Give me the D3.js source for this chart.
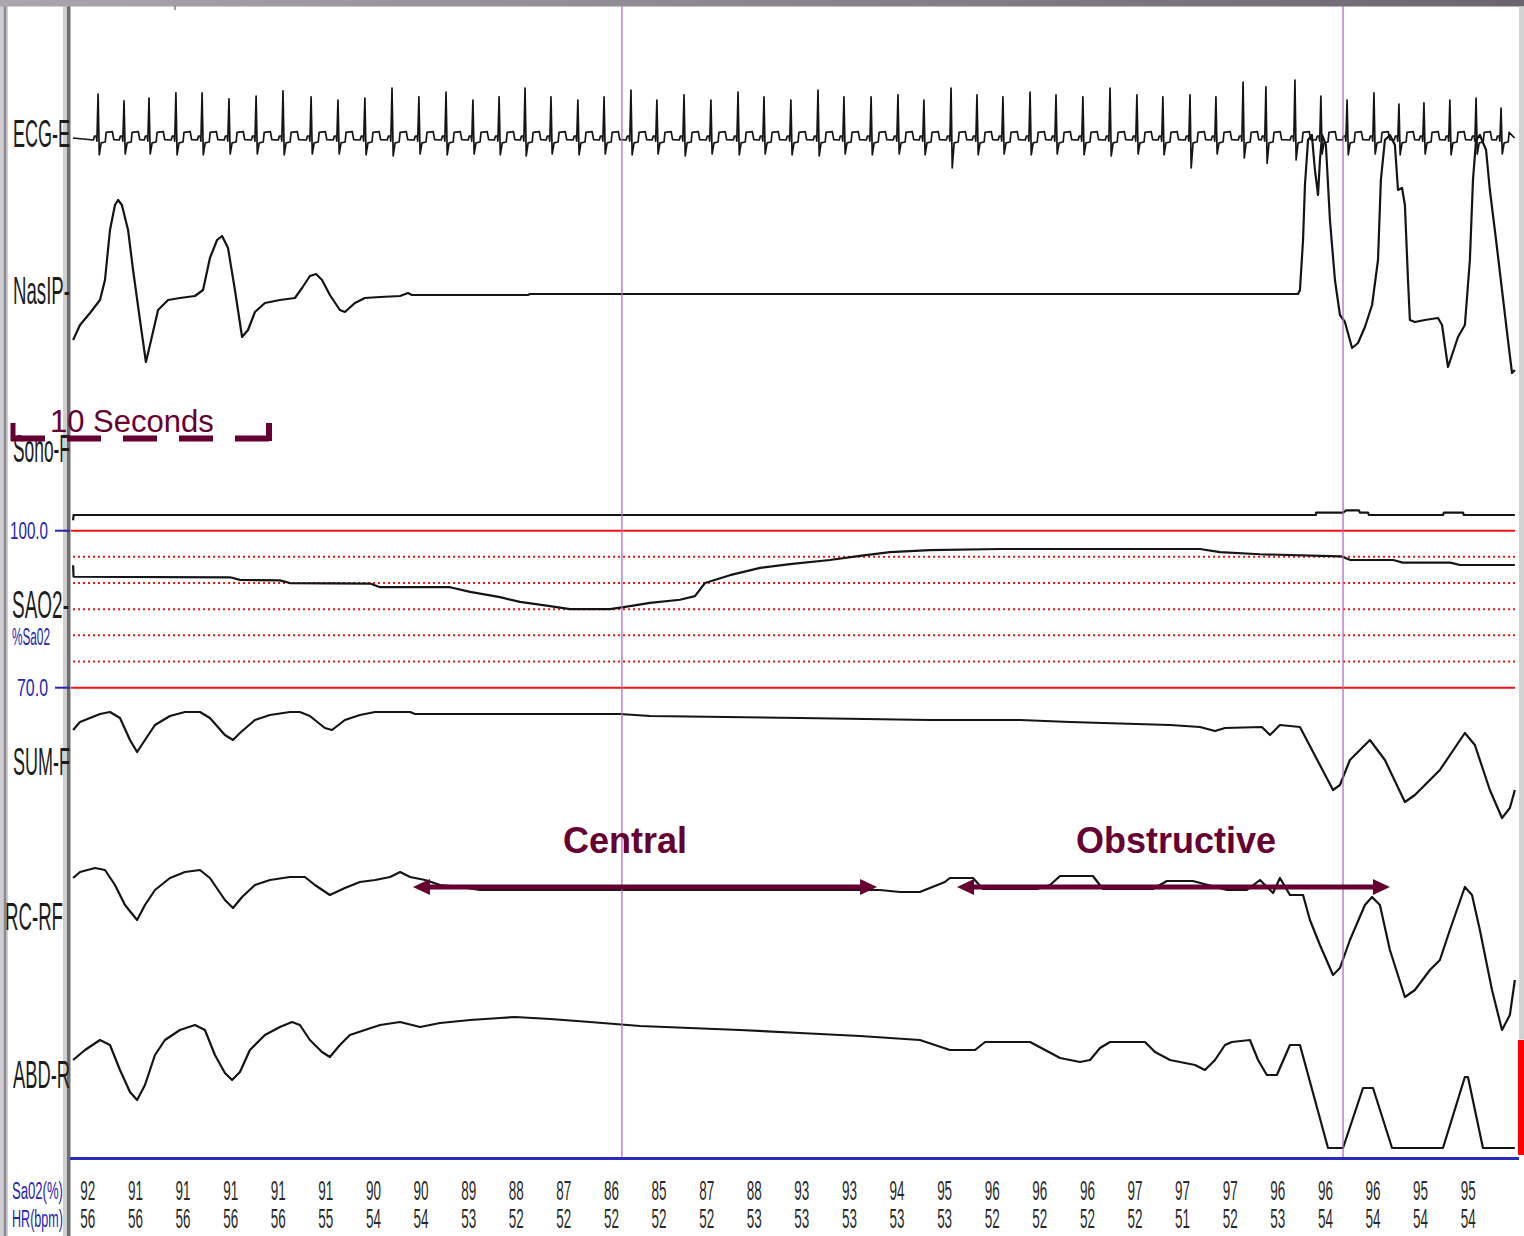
<!DOCTYPE html>
<html>
<head>
<meta charset="utf-8">
<script src="https://cdn.jsdelivr.net/npm/d3@7"></script>
<style>
  html, body { margin: 0; padding: 0; background: #fff; }
  svg { display: block; }
</style>
</head>
<body>
<svg id="chart" width="1524" height="1236"></svg>
<script>
// ---------------------------------------------------------------
// Polysomnography epoch (60 s): central then obstructive apnea
// times in seconds from the start of the screen
// ---------------------------------------------------------------

// Per-2-second summary row
const epochStarts = [0,2,4,6,8,10,12,14,16,18,20,22,24,26,28,30,32,34,36,38,40,42,44,46,48,50,52,54,56,58];
const sao2Row = [92,91,91,91,91,91,90,90,89,88,87,86,85,87,88,93,93,94,95,96,96,96,97,97,97,96,96,96,95,95];
const hrRow   = [56,56,56,56,56,55,54,54,53,52,52,52,52,52,53,53,53,53,53,52,52,52,52,51,52,53,54,54,54,54];

// ECG: R-wave times (s), R amplitude (mV), S depth (mV)
const ecgBeatT = [1.18,2.27,3.32,4.45,5.55,6.68,7.82,8.95,10.13,11.26,12.39,13.53,14.66,15.80,16.93,18.03,19.12,20.21,21.34,22.44,23.57,24.66,25.80,26.93,28.07,29.16,30.29,31.43,32.52,33.66,34.79,35.88,37.02,38.11,39.20,40.34,41.43,42.56,43.70,44.83,45.92,47.06,48.15,49.29,50.25,51.47,52.56,53.66,54.79,55.84,56.89,57.98,59.08,60.13];
const ecgBeatR = [1.10,0.93,1.00,1.13,1.13,0.98,1.05,1.18,1.03,0.95,1.00,1.25,1.03,1.15,0.95,1.03,1.25,1.03,0.95,1.03,1.20,0.95,1.08,0.95,1.15,1.03,0.95,1.20,1.03,1.03,1.08,0.95,1.25,1.08,1.03,1.15,1.08,1.03,1.25,1.08,1.03,1.08,1.03,1.40,1.28,1.45,1.05,0.95,1.13,0.85,0.88,0.95,1.00,0.75];
const ecgBeatS = [0.42,0.40,0.40,0.42,0.42,0.40,0.40,0.42,0.40,0.40,0.42,0.45,0.40,0.42,0.40,0.42,0.45,0.40,0.42,0.40,0.42,0.40,0.45,0.40,0.42,0.40,0.42,0.45,0.40,0.42,0.40,0.42,0.75,0.42,0.40,0.42,0.40,0.42,0.45,0.40,0.42,0.75,0.40,0.50,0.63,0.55,0.40,0.42,0.40,0.42,0.40,0.42,0.40,0.40];
// P-Q segment and S-T-wave segment around each R wave: [offset s, mV]
const ecgPQ = [[-0.20,-0.05],[-0.15,0.05],[-0.08,0.05],[-0.05,-0.08]];
const ecgST = [[0.13,-0.12],[0.30,-0.10],[0.34,0.14],[0.60,0.16],[0.66,-0.04]];

// Nasal pressure (arbitrary units, 0 = no flow)
const nasT = [0.13,0.42,0.84,1.26,1.47,1.68,1.89,2.02,2.18,2.44,2.65,2.94,3.19,3.36,3.70,4.12,4.62,5.25,5.59,5.88,6.18,6.39,6.64,6.93,7.23,7.48,7.77,8.19,8.82,9.45,9.75,10.08,10.34,10.59,10.92,11.34,11.55,11.97,12.39,13.03,13.87,14.20,14.37,19.24,19.33,51.60,51.68,51.81,51.89,52.02,52.18,52.31,52.44,52.52,52.61,52.77,52.94,53.15,53.36,53.57,53.87,54.12,54.41,54.71,54.96,55.08,55.25,55.46,55.67,55.80,55.97,56.09,56.22,56.30,56.51,56.93,57.48,57.65,57.90,58.07,58.32,58.61,58.82,58.95,59.08,59.24,59.50,59.66,59.92,60.17,60.42,60.59,60.71];
const nasV = [-46,-31,-19,-6,14,64,89,94,89,64,24,-26,-68,-51,-16,-6,-4,-2,4,36,54,58,46,4,-43,-36,-18,-9,-6,-4,6,18,20,14,-1,-16,-18,-9,-4,-3,-2,1,-1,-1,0,0,4,54,109,154,159,124,99,134,159,149,74,14,-21,-28,-54,-49,-33,-11,34,114,154,159,149,104,106,89,14,-26,-28,-26,-24,-31,-73,-61,-43,-31,34,114,154,159,144,104,54,4,-46,-79,-76];

// Oxygen saturation (%)
const sao2T = [0.13,0.15,6.72,7.14,8.82,9.24,12.61,13.03,15.97,16.81,18.07,18.91,20.17,21.01,22.69,23.53,24.37,25.63,26.26,26.68,27.73,29.00,30.25,31.93,33.19,34.45,36.13,39.08,47.48,48.32,50.00,53.40,53.80,55.60,56.00,58.00,58.40,60.71];
const sao2V = [93.4,91.2,91.1,90.6,90.5,90.0,89.9,89.2,89.2,88.3,87.3,86.4,85.6,85.0,85.0,85.6,86.2,86.8,87.5,90.0,91.5,92.9,93.6,94.4,95.2,95.9,96.3,96.5,96.5,95.9,95.5,95.1,94.4,94.4,93.9,93.9,93.45,93.45];
// Pulse-amplitude marker trace drawn on the same scale
const pulseT = [0.13,0.15,52.35,52.36,53.49,53.62,54.16,54.20,54.54,54.58,57.69,57.73,58.53,58.57,60.71];
const pulseV = [102.0,103.0,103.0,103.45,103.45,103.9,103.9,103.45,103.45,103.0,103.0,103.45,103.45,103.0,103.0];

// Summed effort
const sumT = [0.13,0.42,0.84,1.26,1.68,2.10,2.52,2.82,3.15,3.57,4.20,4.83,5.46,5.88,6.51,6.85,7.14,7.77,8.40,9.24,9.66,10.08,10.71,11.01,11.55,12.18,12.82,14.29,14.50,23.11,24.37,30.67,36.13,39.92,42.02,46.22,47.48,48.11,48.53,50.08,50.42,50.84,51.68,53.07,53.36,53.78,54.62,55.25,56.09,56.51,57.56,58.61,59.03,59.66,60.17,60.50,60.71];
const sumV = [-16,-8,-4,0,2,-4,-26,-38,-26,-11,-2,2,2,-4,-21,-26,-19,-6,-1,2,2,-2,-14,-16,-6,-1,2,2,0,0,-2,-4,-6,-6,-8,-11,-13,-17,-14,-13,-21,-11,-13,-76,-71,-46,-26,-46,-88,-81,-56,-19,-31,-76,-104,-94,-76];

// Rib-cage effort
const rcT = [0.13,0.42,1.05,1.47,1.89,2.31,2.82,3.15,3.57,4.20,4.83,5.46,5.88,6.51,6.85,7.23,7.77,8.40,9.24,9.87,10.29,10.92,11.55,12.18,12.82,13.45,13.87,14.29,14.92,15.55,16.39,17.23,33.19,34.03,34.87,35.71,36.13,36.76,36.97,37.94,38.36,40.63,41.18,41.60,42.98,43.40,45.50,46.09,47.18,48.61,49.45,50.00,50.55,50.84,51.26,51.81,52.10,52.52,53.07,53.36,53.78,54.41,54.71,55.04,55.46,56.09,56.51,57.14,57.56,57.98,58.61,58.91,59.24,59.75,60.17,60.50,60.71];
const rcV = [9,15,19,17,2,-18,-33,-18,-3,9,15,17,9,-13,-21,-10,2,7,10,10,2,-8,-1,5,7,10,15,10,7,2,0,-3,-3,-3,-5,-5,-1,5,9,9,-2,-2,2,11,11,-2,-2,6,6,-3,-3,7,-6,9,-8,-8,-33,-58,-88,-81,-53,-18,-10,-18,-63,-110,-103,-83,-73,-43,0,-8,-43,-103,-143,-128,-93];

// Abdominal effort
const abdT = [0.13,0.63,1.26,1.68,2.10,2.52,2.82,3.15,3.57,3.99,4.62,5.25,5.67,6.09,6.51,6.81,7.14,7.56,8.19,8.82,9.33,9.66,10.08,10.59,10.92,11.34,11.76,12.39,13.03,13.87,14.71,15.55,16.81,18.07,18.70,20.17,21.85,23.95,26.05,28.15,30.67,33.19,35.71,36.34,36.97,38.03,38.45,40.34,40.97,41.60,42.44,42.86,43.28,43.70,45.17,45.59,46.22,47.27,47.69,48.11,48.53,48.82,49.58,49.92,50.29,50.71,51.26,51.68,52.86,53.49,54.33,54.75,55.55,57.69,58.61,58.74,59.37,60.71];
const abdV = [-30,-20,-10,-15,-40,-62,-70,-55,-25,-10,0,5,0,-25,-43,-50,-42,-20,-5,3,8,5,-10,-22,-27,-15,-5,0,5,8,3,7,10,12,13,11,8,4,2,0,-3,-6,-10,-15,-20,-20,-12,-12,-20,-28,-32,-30,-18,-12,-12,-22,-30,-35,-40,-30,-15,-12,-10,-30,-45,-45,-15,-15,-118,-118,-58,-58,-118,-118,-47,-47,-118,-118];

// Event annotations (s)
const cursorTimes = [23.19, 53.49];
const events = [
  { label: "Central",     start: 14.41, end: 33.91, mid: 23.32 },
  { label: "Obstructive", start: 37.27, end: 55.46, mid: 46.47 }
];

// Channel labels
const channelNames = ["ECG-E", "NasIP-", "Sono-F", "SAO2-", "SUM-F", "RC-RF", "ABD-R"];
const sao2Ticks = [100, 70];
const sao2Dotted = [95, 90, 85, 80, 75];

// ---------------------------------------------------------------
const W = 1524, H = 1236;
const svg = d3.select("#chart");
const maroon = "#660033";
const blue = "#2323b4";
const FONT = "Liberation Sans, Arial, sans-serif";

const x = d3.scaleLinear().domain([0, 60.8]).range([70, 1517]);

const ecgY  = d3.scaleLinear().domain([-1, 1]).range([178, 98]);
const nasY  = d3.scaleLinear().domain([-100, 100]).range([394, 194]);
const sao2Y = d3.scaleLinear().domain([70, 100]).range([687.7, 530.7]);
const sumY  = d3.scaleLinear().domain([-100, 100]).range([814, 614]);
const rcY   = d3.scaleLinear().domain([-100, 100]).range([987, 787]);
const abdY  = d3.scaleLinear().domain([-100, 100]).range([1130, 930]);

const blueY = 1158.5;

// Condensed text: drawn at its natural width, then squeezed horizontally
function narrowText(parent, str, x0, y0, width, size, fill, anchor) {
  const g = parent.append("g");
  const t = g.append("text").attr("x", 0).attr("y", 0)
    .attr("font-family", FONT).attr("font-size", size).attr("fill", fill).text(str);
  const natural = t.node().getComputedTextLength();
  const k = width / natural;
  const left = anchor === "middle" ? x0 - width / 2 : x0;
  g.attr("transform", `translate(${left},${y0}) scale(${k},1)`);
  return g;
}

// background
svg.append("rect").attr("width", W).attr("height", H).attr("fill", "#fff");

// left window frame
svg.append("rect").attr("x", 0).attr("y", 0).attr("width", 8).attr("height", H).attr("fill", "#cfcdd2");
svg.append("line").attr("x1", 5).attr("x2", 5).attr("y1", 0).attr("y2", H)
  .attr("stroke", "#8c8890").attr("stroke-width", 2.5);

// plot frame (left axis)
svg.append("rect").attr("x", 63).attr("y", 0).attr("width", 4).attr("height", H).attr("fill", "#cfcfcf");
svg.append("rect").attr("x", 67).attr("y", 0).attr("width", 3.5).attr("height", H).attr("fill", "#6e6e6e");

// channel labels
const labelSpec = [
  { y: 147, x: 13, len: 57 },
  { y: 304, x: 13, len: 57 },
  { y: 462, x: 13, len: 57 },
  { y: 618, x: 12, len: 57 },
  { y: 775, x: 13, len: 57 },
  { y: 930, x: 5,  len: 58 },
  { y: 1088, x: 13, len: 57 }
];
const labG = svg.append("g");
channelNames.forEach((name, i) => {
  const s = labelSpec[i];
  narrowText(labG, name, s.x, s.y, s.len, 38, "#1c1c1c");
});

// SaO2 axis labels (blue)
narrowText(svg, "100.0", 10, sao2Y(100) + 8, 38, 24, blue);
narrowText(svg, "70.0", 17, sao2Y(70) + 8, 31, 24, blue);
narrowText(svg, "%Sa02", 12, 645, 38, 24, blue);
svg.append("g").selectAll("line").data(sao2Ticks).join("line")
  .attr("x1", 55).attr("x2", 70).attr("y1", d => sao2Y(d)).attr("y2", d => sao2Y(d))
  .attr("stroke", blue).attr("stroke-width", 2);

// SaO2 reference lines
svg.append("g").selectAll("line").data(sao2Ticks).join("line")
  .attr("x1", 71).attr("x2", 1515).attr("y1", d => sao2Y(d)).attr("y2", d => sao2Y(d))
  .attr("stroke", "#f01414").attr("stroke-width", 2);
svg.append("g").selectAll("line").data(sao2Dotted).join("line")
  .attr("x1", 73).attr("x2", 1515).attr("y1", d => sao2Y(d)).attr("y2", d => sao2Y(d))
  .attr("stroke", "#f01414").attr("stroke-width", 2).attr("stroke-dasharray", "2 3");

// build ECG samples from beats
const ecgPts = [[0.12, 0]];
ecgBeatT.forEach((t0, i) => {
  ecgPQ.forEach(([dt, v]) => ecgPts.push([t0 + dt, v]));
  ecgPts.push([t0, ecgBeatR[i]]);
  ecgPts.push([t0 + 0.05, -ecgBeatS[i]]);
  ecgST.forEach(([dt, v]) => ecgPts.push([t0 + dt, v]));
});
ecgPts.push([60.7, 0]);
ecgPts.sort((a, b) => a[0] - b[0]);
const ecgClean = ecgPts.filter(p => p[0] <= 60.72);

function drawTrace(ts, vs, yScale, width) {
  const pts = ts.map((t, i) => [t, vs[i]]);
  svg.append("path")
    .attr("d", d3.line().x(d => x(d[0])).y(d => yScale(d[1]))(pts))
    .attr("fill", "none").attr("stroke", "#141414")
    .attr("stroke-width", width).attr("stroke-linejoin", "round");
}

drawTrace(pulseT, pulseV, sao2Y, 2.2);
drawTrace(sao2T, sao2V, sao2Y, 2.2);
drawTrace(nasT, nasV, nasY, 2.2);
drawTrace(ecgClean.map(d => d[0]), ecgClean.map(d => d[1]), ecgY, 1.7);
drawTrace(sumT, sumV, sumY, 2.2);
drawTrace(rcT, rcV, rcY, 2.2);
drawTrace(abdT, abdV, abdY, 2.2);

// cursor lines
svg.append("g").selectAll("line").data(cursorTimes).join("line")
  .attr("x1", d => x(d)).attr("x2", d => x(d)).attr("y1", 6).attr("y2", blueY)
  .attr("stroke", "#b46cc8").attr("stroke-width", 1.3);

// bottom boundary
svg.append("line").attr("x1", 70).attr("x2", 1519).attr("y1", blueY).attr("y2", blueY)
  .attr("stroke", "#2c2cbc").attr("stroke-width", 3);

// summary row
const rowG = svg.append("g");
narrowText(rowG, "Sa02(%)", 12, 1199, 51, 24, blue);
narrowText(rowG, "HR(bpm)", 12, 1227, 51, 24, blue);
epochStarts.forEach((t, i) => {
  narrowText(rowG, String(sao2Row[i]), x(t + 0.75), 1200, 15, 27, "#2a2a2a", "middle");
  narrowText(rowG, String(hrRow[i]), x(t + 0.75), 1228, 15, 27, "#2a2a2a", "middle");
});

// red marker at right edge
svg.append("rect").attr("x", 1518).attr("y", 1040).attr("width", 6).attr("height", 115).attr("fill", "#ff0000");

// "10 Seconds" scale bar
const barY = 438.5;
svg.append("line").attr("x1", 11).attr("x2", 270).attr("y1", barY).attr("y2", barY)
  .attr("stroke", maroon).attr("stroke-width", 6).attr("stroke-dasharray", "34 22");
svg.append("line").attr("x1", 13).attr("x2", 13).attr("y1", 423).attr("y2", 441)
  .attr("stroke", maroon).attr("stroke-width", 5);
svg.append("line").attr("x1", 269).attr("x2", 269).attr("y1", 423).attr("y2", 441)
  .attr("stroke", maroon).attr("stroke-width", 6);
svg.append("text").attr("x", 50).attr("y", 432)
  .attr("font-family", FONT).attr("font-size", 31)
  .attr("fill", maroon).text("10 Seconds");

// event arrows and labels
const arrowY = 887, head = 17, half = 8;
const evG = svg.append("g");
events.forEach(ev => {
  const a = x(ev.start), b = x(ev.end);
  evG.append("line").attr("x1", a + head - 2).attr("x2", b - head + 2)
    .attr("y1", arrowY).attr("y2", arrowY).attr("stroke", maroon).attr("stroke-width", 5);
  evG.append("path").attr("d", `M${a},${arrowY}L${a + head},${arrowY - half}L${a + head},${arrowY + half}Z`).attr("fill", maroon);
  evG.append("path").attr("d", `M${b},${arrowY}L${b - head},${arrowY - half}L${b - head},${arrowY + half}Z`).attr("fill", maroon);
  evG.append("text").attr("x", x(ev.mid)).attr("y", 853).attr("text-anchor", "middle")
    .attr("font-family", FONT).attr("font-weight", "bold")
    .attr("font-size", 36).attr("fill", maroon).text(ev.label);
});

// window chrome: top bar and right strip
const grad = svg.append("defs").append("linearGradient").attr("id", "topbar")
  .attr("x1", "0").attr("x2", "1").attr("y1", "0").attr("y2", "0");
grad.append("stop").attr("offset", "0").attr("stop-color", "#aaa5af");
grad.append("stop").attr("offset", "1").attr("stop-color", "#6c6571");
svg.append("rect").attr("x", 0).attr("y", 0).attr("width", W).attr("height", 6.5).attr("fill", "url(#topbar)");
svg.append("rect").attr("x", 1519).attr("y", 6.5).attr("width", 5).attr("height", 1033).attr("fill", "#d2d2d2");
svg.append("line").attr("x1", 175).attr("x2", 175).attr("y1", 6).attr("y2", 10).attr("stroke", "#444").attr("stroke-width", 1);
</script>
</body>
</html>
